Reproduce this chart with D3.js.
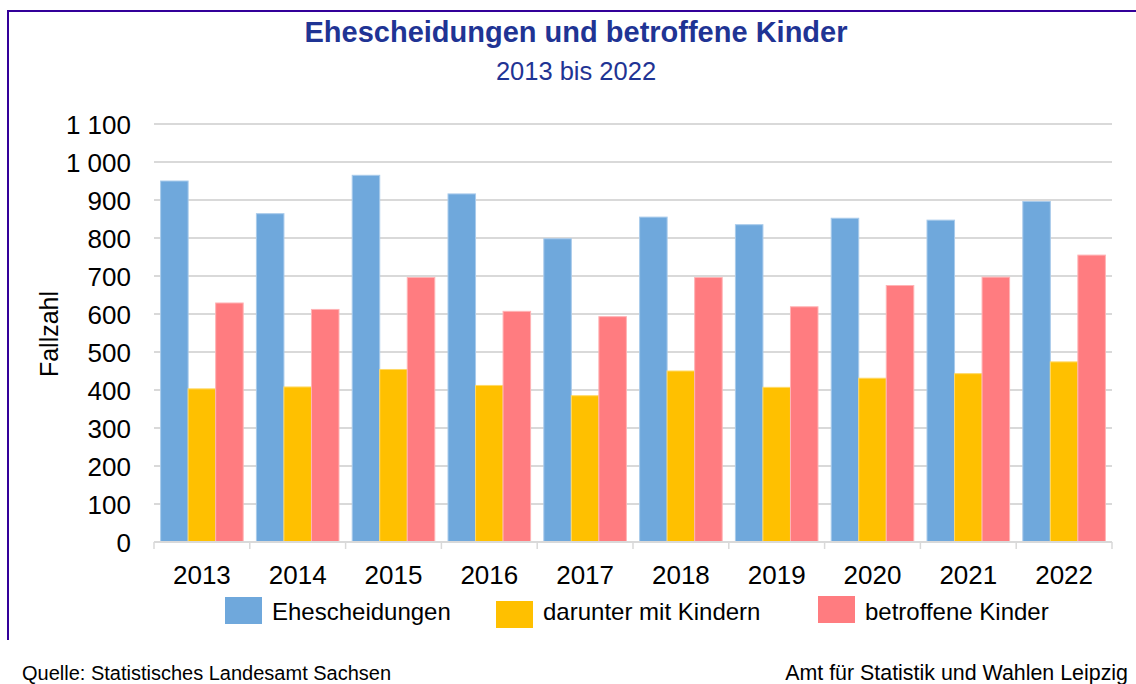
<!DOCTYPE html>
<html><head><meta charset="utf-8">
<script src="https://cdn.jsdelivr.net/npm/d3@7"></script>
<style>body{margin:0;background:#fff}svg{display:block;font-family:Arial,"Liberation Sans",sans-serif}</style>
</head><body>
<svg id="c" width="1136" height="684"></svg>
<script>
const years = ["2013","2014","2015","2016","2017","2018","2019","2020","2021","2022"];
const seriesNames = ["Ehescheidungen","darunter mit Kindern","betroffene Kinder"];
const scheidungen = [950,864,965,916,798,855,835,852,847,896];
const mitKindern = [403,408,454,412,385,450,407,431,443,474];
const betroffeneKinder = [629,612,696,607,593,696,619,675,697,755];
const yTicks = [0,100,200,300,400,500,600,700,800,900,1000,1100];
const colors = ["#6FA8DC","#FFC000","#FF7C80"];
const strokes = ["#A9CBEB","#FFD966","#FFB3B5"];

const svg = d3.select("#c");
const FF = "Arial, 'Liberation Sans', sans-serif";
const fmt = v => d3.format(",")(v).replace(/,/g," ");

// border (top + left)
svg.append("line").attr("x1",7).attr("x2",1136).attr("y1",11).attr("y2",11).attr("stroke","#330099").attr("stroke-width",2);
svg.append("line").attr("x1",8).attr("x2",8).attr("y1",10).attr("y2",640).attr("stroke","#330099").attr("stroke-width",2);

svg.append("text").attr("x",576).attr("y",42).attr("text-anchor","middle")
  .attr("font-size",29).attr("font-weight","bold").attr("fill","#1F3494").text("Ehescheidungen und betroffene Kinder");
svg.append("text").attr("x",576).attr("y",80).attr("text-anchor","middle")
  .attr("font-size",25.5).attr("fill","#1F3494").text("2013 bis 2022");

const x0 = d3.scaleBand().domain(years).range([154,1112]).paddingInner(0).paddingOuter(0);
const x1 = d3.scaleBand().domain(seriesNames).range([0,x0.bandwidth()]).paddingOuter(0.24).paddingInner(0);
const y = d3.scaleLinear().domain([0,1100]).range([542,124]);

// gridlines
svg.append("g").selectAll("line").data(yTicks.filter(d=>d>0)).join("line")
  .attr("x1",154).attr("x2",1112).attr("y1",d=>y(d)).attr("y2",d=>y(d))
  .attr("stroke","#D9D9D9").attr("stroke-width",2);

// y labels
const yAxis = d3.axisLeft(y).tickValues(yTicks).tickFormat(fmt).tickSize(0).tickPadding(0);
const gy = svg.append("g").attr("transform","translate(131,0)").call(yAxis);
gy.select(".domain").remove();
gy.selectAll("text").attr("font-size",26).attr("fill","#000").attr("font-family",FF).attr("dy","0.36em");

svg.append("text").attr("transform","translate(58,334) rotate(-90)").attr("text-anchor","middle")
  .attr("font-size",25).attr("fill","#000").text("Fallzahl");

// bars
const data = [scheidungen,mitKindern,betroffeneKinder];
const gb = svg.append("g");
years.forEach((yr,i)=>{
  seriesNames.forEach((s,j)=>{
    gb.append("rect").attr("x",x0(yr)+x1(s)).attr("y",y(data[j][i]))
      .attr("width",x1.bandwidth()).attr("height",y(0)-y(data[j][i]))
      .attr("fill",colors[j]).attr("stroke",strokes[j]).attr("stroke-width",1);
  });
});

// x axis
const xAxis = d3.axisBottom(x0).tickSize(0).tickPadding(0);
const gx = svg.append("g").attr("transform","translate(0,542)").call(xAxis);
gx.select(".domain").remove();
gx.selectAll("text").attr("font-size",26).attr("fill","#000").attr("font-family",FF).attr("y",42).attr("dy",0);
svg.append("line").attr("x1",154).attr("x2",1112).attr("y1",542).attr("y2",542).attr("stroke","#D9D9D9").attr("stroke-width",2);
const bounds = years.map(d=>x0(d)).concat([1112]);
svg.append("g").selectAll("line").data(bounds).join("line")
  .attr("x1",d=>d).attr("x2",d=>d).attr("y1",542).attr("y2",549).attr("stroke","#D9D9D9").attr("stroke-width",1.5);

// legend
const legendX = [225,496,818];
const legendY = [597,601,596];
seriesNames.forEach((s,j)=>{
  svg.append("rect").attr("x",legendX[j]).attr("y",legendY[j]).attr("width",37).attr("height",27).attr("fill",colors[j]);
  svg.append("text").attr("x",legendX[j]+47).attr("y",620).attr("font-size",24).attr("fill","#000").text(s);
});

// footer
svg.append("text").attr("x",22).attr("y",680).attr("font-size",20).attr("fill","#000").text("Quelle: Statistisches Landesamt Sachsen");
svg.append("text").attr("x",1128).attr("y",680).attr("text-anchor","end").attr("font-size",21.4).attr("fill","#000").text("Amt für Statistik und Wahlen Leipzig");
</script>
</body></html>
